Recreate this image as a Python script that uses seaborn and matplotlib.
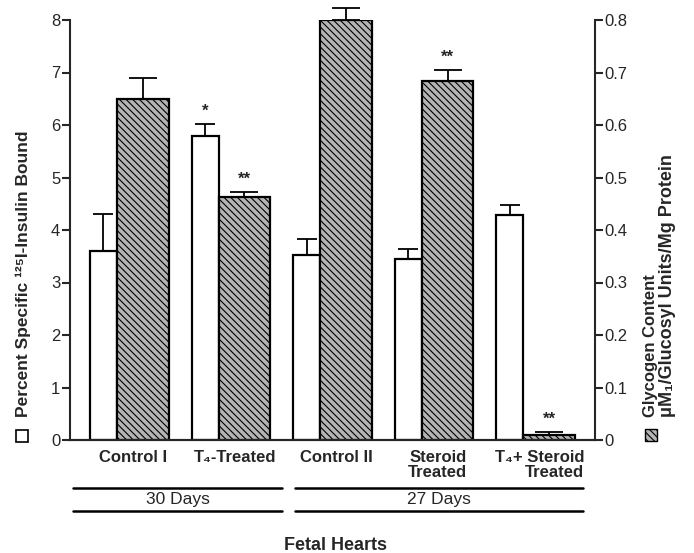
import numpy as np
import pandas as pd
import matplotlib
matplotlib.use('Agg')
import matplotlib.pyplot as plt
import matplotlib.transforms as mtransforms
from matplotlib.patches import Rectangle
import seaborn as sns

# data
groups = ['Control I', 'T\u2084-Treated', 'Control II', 'Steroid\nTreated', 'T\u2084+ Steroid\nTreated']
insulin = [3.6, 5.8, 3.52, 3.44, 4.28]          # left axis, white bars
insulin_err = [0.7, 0.22, 0.3, 0.2, 0.2]
glycogen = [0.65, 0.462, 0.80, 0.683, 0.009]    # right axis, hatched bars
glycogen_err = [0.04, 0.01, 0.022, 0.022, 0.007]
insulin_sig = ['', '*', '', '', '']
glycogen_sig = ['', '**', '', '**', '**']
periods = ['30 Days', '27 Days']
period_members = [(0, 1), (2, 4)]

sns.set_style('ticks')
plt.rcParams['font.family'] = ['Liberation Sans', 'DejaVu Sans']
plt.rcParams['hatch.linewidth'] = 0.8

HATCH = '\\' * 5
HFACE = '#b4b4b4'

fig = plt.figure(figsize=(6.94, 5.53), dpi=100)
ax = fig.add_axes([70 / 694, 113 / 553, 525 / 694, 420 / 553])
ax2 = ax.twinx()

pos = np.arange(len(groups))
w_white, w_hatch = 0.266, 0.512
x_white = pos - w_white / 2
x_hatch = pos + w_hatch / 2

dw = pd.DataFrame({'x': x_white, 'y': insulin})
dh = pd.DataFrame({'x': x_hatch, 'y': glycogen})

sns.barplot(data=dw, x='x', y='y', native_scale=True, width=w_white, errorbar=None,
            color='white', edgecolor='black', linewidth=1.6, ax=ax)
sns.barplot(data=dh, x='x', y='y', native_scale=True, width=w_hatch, errorbar=None,
            color=HFACE, edgecolor='black', linewidth=1.6, hatch=HATCH, ax=ax2)

eb1 = ax.errorbar(x_white, insulin, yerr=[np.zeros(len(pos)), insulin_err], fmt='none',
                  ecolor='black', elinewidth=1.3, capsize=7, capthick=1.3, zorder=5)
eb2 = ax2.errorbar(x_hatch, glycogen, yerr=[np.zeros(len(pos)), glycogen_err], fmt='none',
                   ecolor='black', elinewidth=1.3, capsize=10, capthick=1.3, zorder=5)
for eb in (eb1, eb2):
    for art in eb.lines[1] + eb.lines[2]:
        art.set_clip_on(False)

for x, v, e, s in zip(x_white, insulin, insulin_err, insulin_sig):
    if s:
        ax.text(x, v + e + 0.1, s, ha='center', va='bottom', fontsize=12, fontweight='bold')
for x, v, e, s in zip(x_hatch, glycogen, glycogen_err, glycogen_sig):
    if s:
        ax2.text(x, v + e + 0.01, s, ha='center', va='bottom', fontsize=12, fontweight='bold')

xl = (-0.463, 4.709)
ax.set_xlim(*xl)
ax2.set_xlim(*xl)
ax.set_ylim(0, 8)
ax2.set_ylim(0, 0.8)
ax.set_yticks(np.arange(0, 9, 1))
ax2.set_yticks(np.arange(0, 0.81, 0.1))
ax2.set_yticklabels(['0'] + ['%.1f' % v for v in np.arange(0.1, 0.81, 0.1)])

ax.set_xticks(pos + 0.16)
ax.set_xticklabels(groups, fontsize=12, fontweight='bold', linespacing=1.0)
ax.get_xticklabels()[4].set_multialignment('right')
ax.tick_params(axis='x', length=0, pad=7)
ax.tick_params(axis='y', direction='out', length=6, width=1.5, labelsize=12, pad=1)
ax2.tick_params(axis='y', direction='out', length=6, width=1.5, labelsize=12, pad=1)
ax.set_xlabel('')
ax.set_ylabel('')
ax2.set_xlabel('')
ax2.set_ylabel('')

for a in (ax, ax2):
    a.spines['top'].set_visible(False)
    for sp in ('left', 'right', 'bottom'):
        a.spines[sp].set_linewidth(1.5)
ax.spines['right'].set_visible(False)
ax2.spines['left'].set_visible(False)

# period brackets under the axis
trans = mtransforms.blended_transform_factory(ax.transData, ax.transAxes)
extents = [(-0.43, 0.63), (-0.25, 0.59)]
for name, (a, b), (l0, l1) in zip(periods, period_members, extents):
    x0, x1 = pos[a] + l0, pos[b] + l1
    for yy in (-0.114, -0.169):
        ax.plot([x0, x1], [yy, yy], color='black', lw=1.8, transform=trans, clip_on=False)
    ax.text((x0 + x1) / 2, -0.142, name, transform=trans, ha='center', va='center', fontsize=12.5)

fig.text(335 / 694, 1 - 546 / 553, 'Fetal Hearts', ha='center', va='center',
         fontsize=13, fontweight='bold')

# axis titles with legend squares
fig.text(23 / 694, 1 - 417 / 553, 'Percent Specific \u00b9\u00b2\u2075I-Insulin Bound', rotation=90,
         rotation_mode='anchor', ha='left', va='center', fontsize=12.5, fontweight='bold')
fig.patches.append(Rectangle((16 / 694, 1 - 442 / 553), 12 / 694, 12 / 553, transform=fig.transFigure,
                             facecolor='white', edgecolor='black', lw=1.2))
fig.text(651 / 694, 1 - 417 / 553, 'Glycogen Content', rotation=90, rotation_mode='anchor',
         ha='left', va='center', fontsize=12, fontweight='bold')
fig.text(667 / 694, 1 - 417 / 553, '\u03bcM\u2081/Glucosyl Units/Mg Protein', rotation=90,
         rotation_mode='anchor', ha='left', va='center', fontsize=13, fontweight='bold')
fig.patches.append(Rectangle((645 / 694, 1 - 441 / 553), 12 / 694, 12 / 553, transform=fig.transFigure,
                             facecolor=HFACE, edgecolor='black', lw=1.0, hatch=HATCH))

fig.savefig('out.png', dpi=100)
